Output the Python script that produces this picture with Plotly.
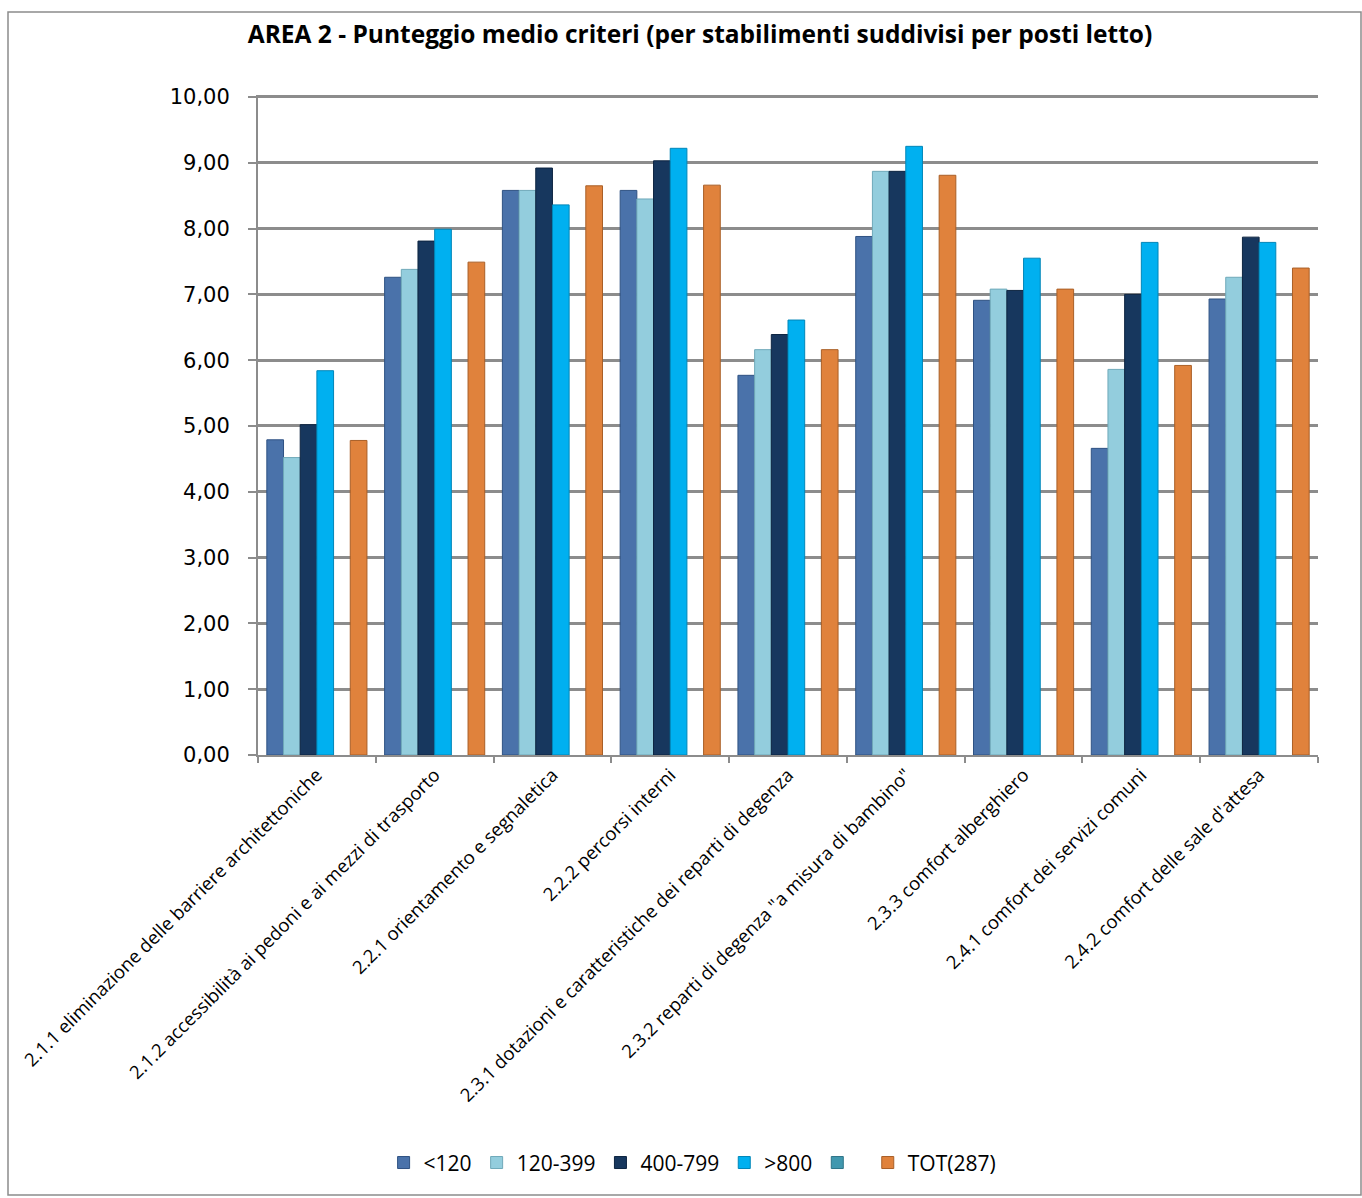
import plotly.graph_objects as go

categories = [
    "2.1.1 eliminazione delle barriere architettoniche",
    "2.1.2 accessibilità ai pedoni e ai mezzi di trasporto",
    "2.2.1 orientamento e segnaletica",
    "2.2.2 percorsi interni",
    "2.3.1 dotazioni e caratteristiche dei reparti di degenza",
    "2.3.2 reparti di degenza \"a misura di bambino\"",
    "2.3.3 comfort alberghiero",
    "2.4.1 comfort dei servizi comuni",
    "2.4.2 comfort delle sale d'attesa",
]

lt120 = [4.79, 7.26, 8.58, 8.58, 5.77, 7.88, 6.91, 4.66, 6.93]
s120_399 = [4.52, 7.38, 8.58, 8.45, 6.16, 8.87, 7.08, 5.86, 7.26]
s400_799 = [5.02, 7.81, 8.92, 9.03, 6.39, 8.87, 7.06, 7.00, 7.87]
gt800 = [5.84, 7.99, 8.36, 9.22, 6.61, 9.25, 7.55, 7.79, 7.79]
empty_series = [None] * 9
tot287 = [4.78, 7.49, 8.65, 8.66, 6.16, 8.81, 7.08, 5.92, 7.40]

series = [
    ("<120", lt120, "#4a72aa", "#2f5283"),
    ("120-399", s120_399, "#93cddd", "#6fa9b9"),
    ("400-799", s400_799, "#17375e", "#0d2440"),
    (">800", gt800, "#00b0f0", "#0086b8"),
    (" ", empty_series, "#4198af", "#2f7488"),
    ("TOT(287)", tot287, "#e0823c", "#a95f27"),
]

fig = go.Figure()
for name, vals, color, edge in series:
    fig.add_trace(go.Bar(
        x=categories, y=vals, name=name,
        marker=dict(color=color, line=dict(color=edge, width=1)),
    ))

grid = "#8c8c8c"
plot_h = 660
plot_w = 1362 - 258 - 44
fig.update_layout(
    width=1362, height=1198,
    barmode="group", bargap=0.15, bargroupgap=0.0,
    separators=",.",
    paper_bgcolor="white", plot_bgcolor="white",
    margin=dict(l=258, r=44, t=95, b=443),
    title=dict(
        text="<b>AREA 2 - Punteggio medio criteri (per stabilimenti suddivisi per posti letto)</b>",
        x=0.514, xanchor="center", y=0.971, yanchor="middle",
        font=dict(family="Open Sans", size=24.5, color="black"),
    ),
    font=dict(family="Open Sans", color="black"),
    xaxis=dict(
        showline=True, linecolor=grid, linewidth=2,
        ticks="outside", tickson="boundaries", ticklen=6, tickcolor=grid, tickwidth=2,
        tickangle=-45, tickfont=dict(family="Open Sans", size=18.5, color="black"),
        showgrid=False,
    ),
    yaxis=dict(
        range=[0, 10.03], tickvals=[0, 1, 2, 3, 4, 5, 6, 7, 8, 9, 10], tickformat=".2f",
        showline=True, linecolor=grid, linewidth=2,
        ticks="outside", ticklen=8, tickcolor=grid, tickwidth=2,
        ticklabelstandoff=14,
        showgrid=True, gridcolor=grid, gridwidth=2.5,
        tickfont=dict(family="DejaVu Sans", size=21, color="black"),
        zeroline=False,
    ),
    legend=dict(
        orientation="h", x=0.41, xanchor="center", y=-0.618, yanchor="middle",
        font=dict(family="Open Sans", size=21, color="black"),
        traceorder="normal",
    ),
    shapes=[dict(
        type="rect", xref="paper", yref="paper",
        x0=(8 - 258) / plot_w, x1=(1361 - 258) / plot_w,
        y0=(755 - 1195) / plot_h, y1=(755 - 12) / plot_h,
        line=dict(color="#8c8c8c", width=1.5), layer="below",
    )],
)

fig.write_html("out.html")
